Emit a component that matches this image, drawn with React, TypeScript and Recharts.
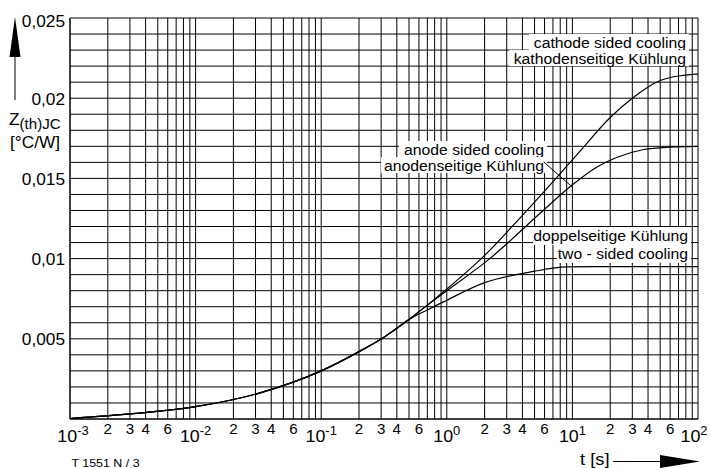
import React from 'react';
import {
  LineChart,
  Line,
  XAxis,
  YAxis,
  CartesianGrid,
  ReferenceArea,
  ReferenceLine,
} from 'recharts';

const FONT = '"Liberation Sans", Arial, Helvetica, sans-serif';

// ---- data -------------------------------------------------------------
// common (overlapping) start of all three curves
const commonT = [0.001, 0.00316, 0.01, 0.0316, 0.1, 0.2, 0.316, 0.5];
const commonZ = [0.00003, 0.00033, 0.00077, 0.0016, 0.003, 0.0042, 0.0051, 0.0062];

// cathode sided cooling
const cathodeT = [0.7, 1, 2, 4, 8, 11.5, 20, 30, 50, 72, 100];
const cathodeZ = [0.0071, 0.0081, 0.0102, 0.0127, 0.0153, 0.0167, 0.0188, 0.02, 0.0211, 0.0214, 0.0215];

// anode sided cooling
const anodeT = [0.7, 1, 2.2, 5.85, 10, 15.6, 22.5, 37, 60, 100];
const anodeZ = [0.0071, 0.008, 0.01, 0.013, 0.0146, 0.0157, 0.0163, 0.0168, 0.01695, 0.017];

// two-sided cooling
const twoSidedT = [0.7, 0.94, 2, 4.9, 9, 15, 100];
const twoSidedZ = [0.0068, 0.0073, 0.0085, 0.0092, 0.00948, 0.0095, 0.0095];

// grid / ticks
const xGridTicks = [
  0.001, 0.002, 0.003, 0.004, 0.005, 0.006, 0.007, 0.008, 0.009,
  0.01, 0.02, 0.03, 0.04, 0.05, 0.06, 0.07, 0.08, 0.09,
  0.1, 0.2, 0.3, 0.4, 0.5, 0.6, 0.7, 0.8, 0.9,
  1, 2, 3, 4, 5, 6, 7, 8, 9,
  10, 20, 30, 40, 50, 60, 70, 80, 90,
  100,
];
const xLabeledMantissas = [1, 2, 3, 4, 6];

const yGridTicks = [
  0, 0.001, 0.002, 0.003, 0.004, 0.005, 0.006, 0.007, 0.008, 0.009,
  0.01, 0.011, 0.012, 0.013, 0.014, 0.015, 0.016, 0.017, 0.018, 0.019,
  0.02, 0.021, 0.022, 0.023, 0.024, 0.025,
];
const yLabelValues = [0.005, 0.01, 0.015, 0.02, 0.025];
const yLabelTexts = ['0,005', '0,01', '0,015', '0,02', '0,025'];

const toPoints = (t: number[], z: number[]) => t.map((v, i) => ({ t: v, z: z[i] }));
const cathodeData = toPoints(commonT.concat(cathodeT), commonZ.concat(cathodeZ));
const anodeData = toPoints(commonT.concat(anodeT), commonZ.concat(anodeZ));
const twoSidedData = toPoints(commonT.concat(twoSidedT), commonZ.concat(twoSidedZ));

// ---- helpers ----------------------------------------------------------
const SX = 1.08;

function T(props: any) {
  const { x, y, size, anchor = 'start', sx = SX, children } = props;
  return (
    <text
      transform={`translate(${x},${y}) scale(${sx},1)`}
      textAnchor={anchor}
      fontSize={size}
      fontFamily={FONT}
      fill="#000"
    >
      {children}
    </text>
  );
}

function XTick(props: any) {
  const { x, payload } = props;
  const v = payload.value as number;
  const e = Math.floor(Math.log10(v) + 1e-9);
  const m = Math.round(v / Math.pow(10, e));
  if (!xLabeledMantissas.includes(m)) return null;
  if (m === 1) {
    let dx = 0;
    if (e === -3) dx = 3;
    if (e === 2) dx = -4;
    return (
      <T x={x + dx} y={442} size={16.5} anchor="middle">
        10<tspan fontSize={12} dy={-7}>{String(e)}</tspan>
      </T>
    );
  }
  return (
    <T x={x} y={433.5} size={14} anchor="middle">
      {String(m)}
    </T>
  );
}

function YTick(props: any) {
  const { y, payload } = props;
  const v = payload.value as number;
  const idx = yLabelValues.findIndex((l) => Math.abs(l - v) < 1e-7);
  if (idx < 0) return null;
  const dy = idx === yLabelValues.length - 1 ? 8.5 : 6.5;
  return (
    <T x={65} y={y + dy} size={16} anchor="end">
      {yLabelTexts[idx]}
    </T>
  );
}

const labelBox = (text: string, size = 15) => (props: any) => {
  const { x, y, width, height } = props;
  return (
    <g>
      <rect x={x} y={y} width={width} height={height} fill="#fff" stroke="none" />
      <T x={x + width - 3} y={y + height / 2 + 5.5} size={size} anchor="end" sx={1.05}>
        {text}
      </T>
    </g>
  );
};

export default function App() {
  return (
    <div
      style={{
        position: 'absolute',
        left: 0,
        top: 0,
        width: 710,
        height: 468,
        background: '#fff',
        overflow: 'hidden',
      }}
    >
      <LineChart
        width={710}
        height={468}
        margin={{ top: 18, right: 12, bottom: 0, left: 0 }}
      >
        <CartesianGrid stroke="#000" strokeWidth={1} />
        <XAxis
          dataKey="t"
          type="number"
          scale="log"
          domain={[0.001, 100]}
          allowDataOverflow
          ticks={xGridTicks}
          interval={0}
          tick={<XTick />}
          tickLine={false}
          axisLine={{ stroke: '#000' }}
          height={49}
        />
        <YAxis
          dataKey="z"
          type="number"
          domain={[0, 0.025]}
          allowDataOverflow
          ticks={yGridTicks}
          interval={0}
          tick={<YTick />}
          tickLine={false}
          axisLine={{ stroke: '#000' }}
          width={70}
        />

        <Line data={cathodeData} dataKey="z" type="monotone" stroke="#000" strokeWidth={1.2} dot={false} isAnimationActive={false} />
        <Line data={anodeData} dataKey="z" type="monotone" stroke="#000" strokeWidth={1.2} dot={false} isAnimationActive={false} />
        <Line data={twoSidedData} dataKey="z" type="monotone" stroke="#000" strokeWidth={1.2} dot={false} isAnimationActive={false} />

        <ReferenceLine
          segment={[{ x: 5.9, y: 0.01603 }, { x: 9.93, y: 0.01448 }]}
          stroke="#000"
          strokeWidth={1}
          ifOverflow="visible"
        />

        <ReferenceArea x1={4.51} x2={84.7} y1={0.023} y2={0.024} shape={labelBox('cathode sided cooling')} ifOverflow="visible" />
        <ReferenceArea x1={3.13} x2={84.7} y1={0.022} y2={0.023} shape={labelBox('kathodenseitige Kühlung')} ifOverflow="visible" />

        <ReferenceArea x1={0.416} x2={6.28} y1={0.01633} y2={0.01733} shape={labelBox('anode sided cooling')} ifOverflow="visible" />
        <ReferenceArea x1={0.299} x2={6.28} y1={0.01534} y2={0.01633} shape={labelBox('anodenseitige Kühlung')} ifOverflow="visible" />

        <ReferenceArea x1={4.86} x2={88} y1={0.01085} y2={0.01197} shape={labelBox('doppelseitige Kühlung')} ifOverflow="visible" />
        <ReferenceArea x1={7.54} x2={88} y1={0.00973} y2={0.01085} shape={labelBox('two - sided cooling')} ifOverflow="visible" />
      </LineChart>

      <svg
        width={710}
        height={468}
        style={{ position: 'absolute', left: 0, top: 0, pointerEvents: 'none' }}
      >
        {/* y-axis title and arrow */}
        <line x1={15} y1={56} x2={15} y2={100} stroke="#000" strokeWidth={1} />
        <polygon points="15,17 9.5,57 20.5,57" fill="#000" />
        <T x={9} y={124.5} size={16}>
          Z<tspan fontSize={14} dy={4.5}>(th)JC</tspan>
        </T>
        <T x={10} y={147.5} size={16}>[°C/W]</T>

        {/* x-axis title and arrow */}
        <T x={580} y={465} size={17}>t [s]</T>
        <line x1={613} y1={461.5} x2={661} y2={461.5} stroke="#000" strokeWidth={1} />
        <polygon points="660,455 700,461.5 660,468" fill="#000" />

        {/* figure id */}
        <T x={71.5} y={466.5} size={11.5}>T 1551 N / 3</T>
      </svg>
    </div>
  );
}
